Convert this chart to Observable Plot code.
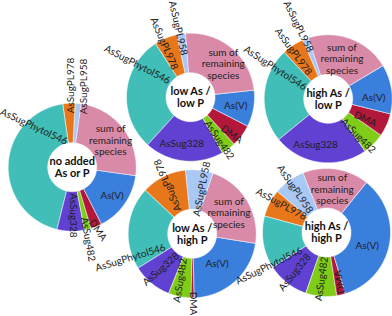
<!DOCTYPE html>
<html><head><meta charset="utf-8">
<script src="https://cdn.jsdelivr.net/npm/d3@7"></script>
<script src="https://cdn.jsdelivr.net/npm/@observablehq/plot@0.6"></script>
<style>html,body{margin:0;padding:0;background:#fff}</style>
</head><body><div id="chart"></div>
<script>
// ---- data ----
const species = ["sum of remaining species","As(V)","DMA","AsSug482","AsSug328","AsSugPhytol546","AsSugPL978","AsSugPL958"];
const sliceLabels = ["sum of\nremaining\nspecies","As(V)","DMA","AsSug482","AsSug328","AsSugPhytol546","AsSugPL978","AsSugPL958"];
const conditions = ["no added\nAs or P","low As /\nlow P","high As /\nlow P","low As /\nhigh P","high As /\nhigh P"];
// share of each species (% of total), same order as species
const noAdded    = [25.0, 15.3, 2.8, 1.7, 6.9, 43.8, 3.1, 1.4];
const lowAsLowP  = [24.6, 9.2, 5.6, 3.6, 20.0, 29.1, 5.8, 2.1];
const highAsLowP = [21.4, 12.5, 5.8, 5.6, 23.8, 23.9, 5.6, 1.4];
const lowAsHighP = [22.2, 22.1, 0.8, 5.7, 10.0, 20.9, 11.4, 6.9];
const highAsHighP= [16.8, 34.5, 2.2, 7.8, 10.6, 13.3, 6.9, 7.9];
const series = [noAdded, lowAsLowP, highAsLowP, lowAsHighP, highAsHighP];

// ---- layout & style ----
const colors = ["#d98aa8","#3b7fdd","#b3173a","#80cd18","#6041d2","#41beb7","#e8761a","#a9c8f5"];
const centers = [[71.7,166.7],[190,96.7],[327.7,98.3],[191.7,233.3],[326,232]];
const startAngles = [8, -4.5, -18, 19, -21.5];
const R = 64, R0 = 24.5;
// label placement per donut & species: [fraction along slice, radius, rotation]
const labelLayout = [
  [[0.52,47,0],[0.5,49,0],[0.44,68,55],[0.67,74,80],[0.38,48,90],[0.78,56,25],[0.62,81.7,-90],[1.0,81.5,-90]],
  [[0.55,47,0],[0.5,46,0],[0.71,55.5,35],[0.65,51.6,56],[0.56,47.3,0],[0.76,62.5,27.5],[0.34,59.7,67],[0.29,70.2,77.5]],
  [[0.48,42.4,0],[0.64,45.6,0],[0.68,42.3,25],[0.77,47.6,45],[0.59,46.8,0],[0.81,61.3,33],[0.36,58.6,54],[0.2,78.2,64]],
  [[0.51,42.5,0],[0.52,39,0],[0,69.7,90],[0.66,48.3,-81],[0.56,47.2,-41],[0.15,66.3,-17],[0.48,54.4,-113],[0.7,45.9,-79]],
  [[0.48,44,0],[0.55,42.7,0],[0.29,51.2,-100],[0.55,46.6,-82],[0.52,50.9,-51],[0.06,66.4,-26],[0.7,53.5,29],[0.51,53.6,56]]
];

const rad = d => d * Math.PI / 180;
const pts = [], labels = [], centerText = [];
series.forEach((vals, di) => {
  const [cx, cy] = centers[di];
  const s0 = rad(startAngles[di]);
  const arcs = d3.pie().sort(null).startAngle(s0).endAngle(s0 + 2*Math.PI)(vals);
  const P = (a, r) => ({x: cx + r*Math.sin(a), y: cy - r*Math.cos(a)});
  arcs.forEach((arc, si) => {
    const key = di + "-" + si;
    const n = Math.max(2, Math.ceil((arc.endAngle - arc.startAngle) / rad(1)));
    for (let k = 0; k <= n; k++) {
      const a = arc.startAngle + (arc.endAngle - arc.startAngle) * k / n;
      pts.push({...P(a, R), key, name: species[si]});
    }
    for (let k = n; k >= 0; k--) {
      const a = arc.startAngle + (arc.endAngle - arc.startAngle) * k / n;
      pts.push({...P(a, R0), key, name: species[si]});
    }
    const [f, r, rot] = labelLayout[di][si];
    const a = arc.startAngle + (arc.endAngle - arc.startAngle) * f;
    labels.push({...P(a, r), text: sliceLabels[si], rotate: rot});
  });
  centerText.push({x: cx, y: cy, text: conditions[di]});
});

const chart = Plot.plot({
  width: 392, height: 316, margin: 0,
  x: {domain: [0, 392], range: [0, 392], axis: null},
  y: {domain: [0, 316], range: [0, 316], axis: null},
  color: {domain: species, range: colors},
  style: {background: "#fff"},
  marks: [
    Plot.line(pts, {x: "x", y: "y", z: "key", fill: "name", stroke: "#fff", strokeWidth: 0.5, curve: "linear-closed"}),
    Plot.text(labels, {x: "x", y: "y", text: "text", rotate: "rotate", fontSize: 10, fontFamily: "Lato", fill: "#1e1e1e", lineHeight: 1.15}),
    Plot.text(centerText, {x: "x", y: "y", text: "text", fontSize: 11, fontWeight: "bold", fontFamily: "Lato", fill: "#111", lineHeight: 1.1})
  ]
});
document.getElementById("chart").appendChild(chart);
</script>
</body></html>
